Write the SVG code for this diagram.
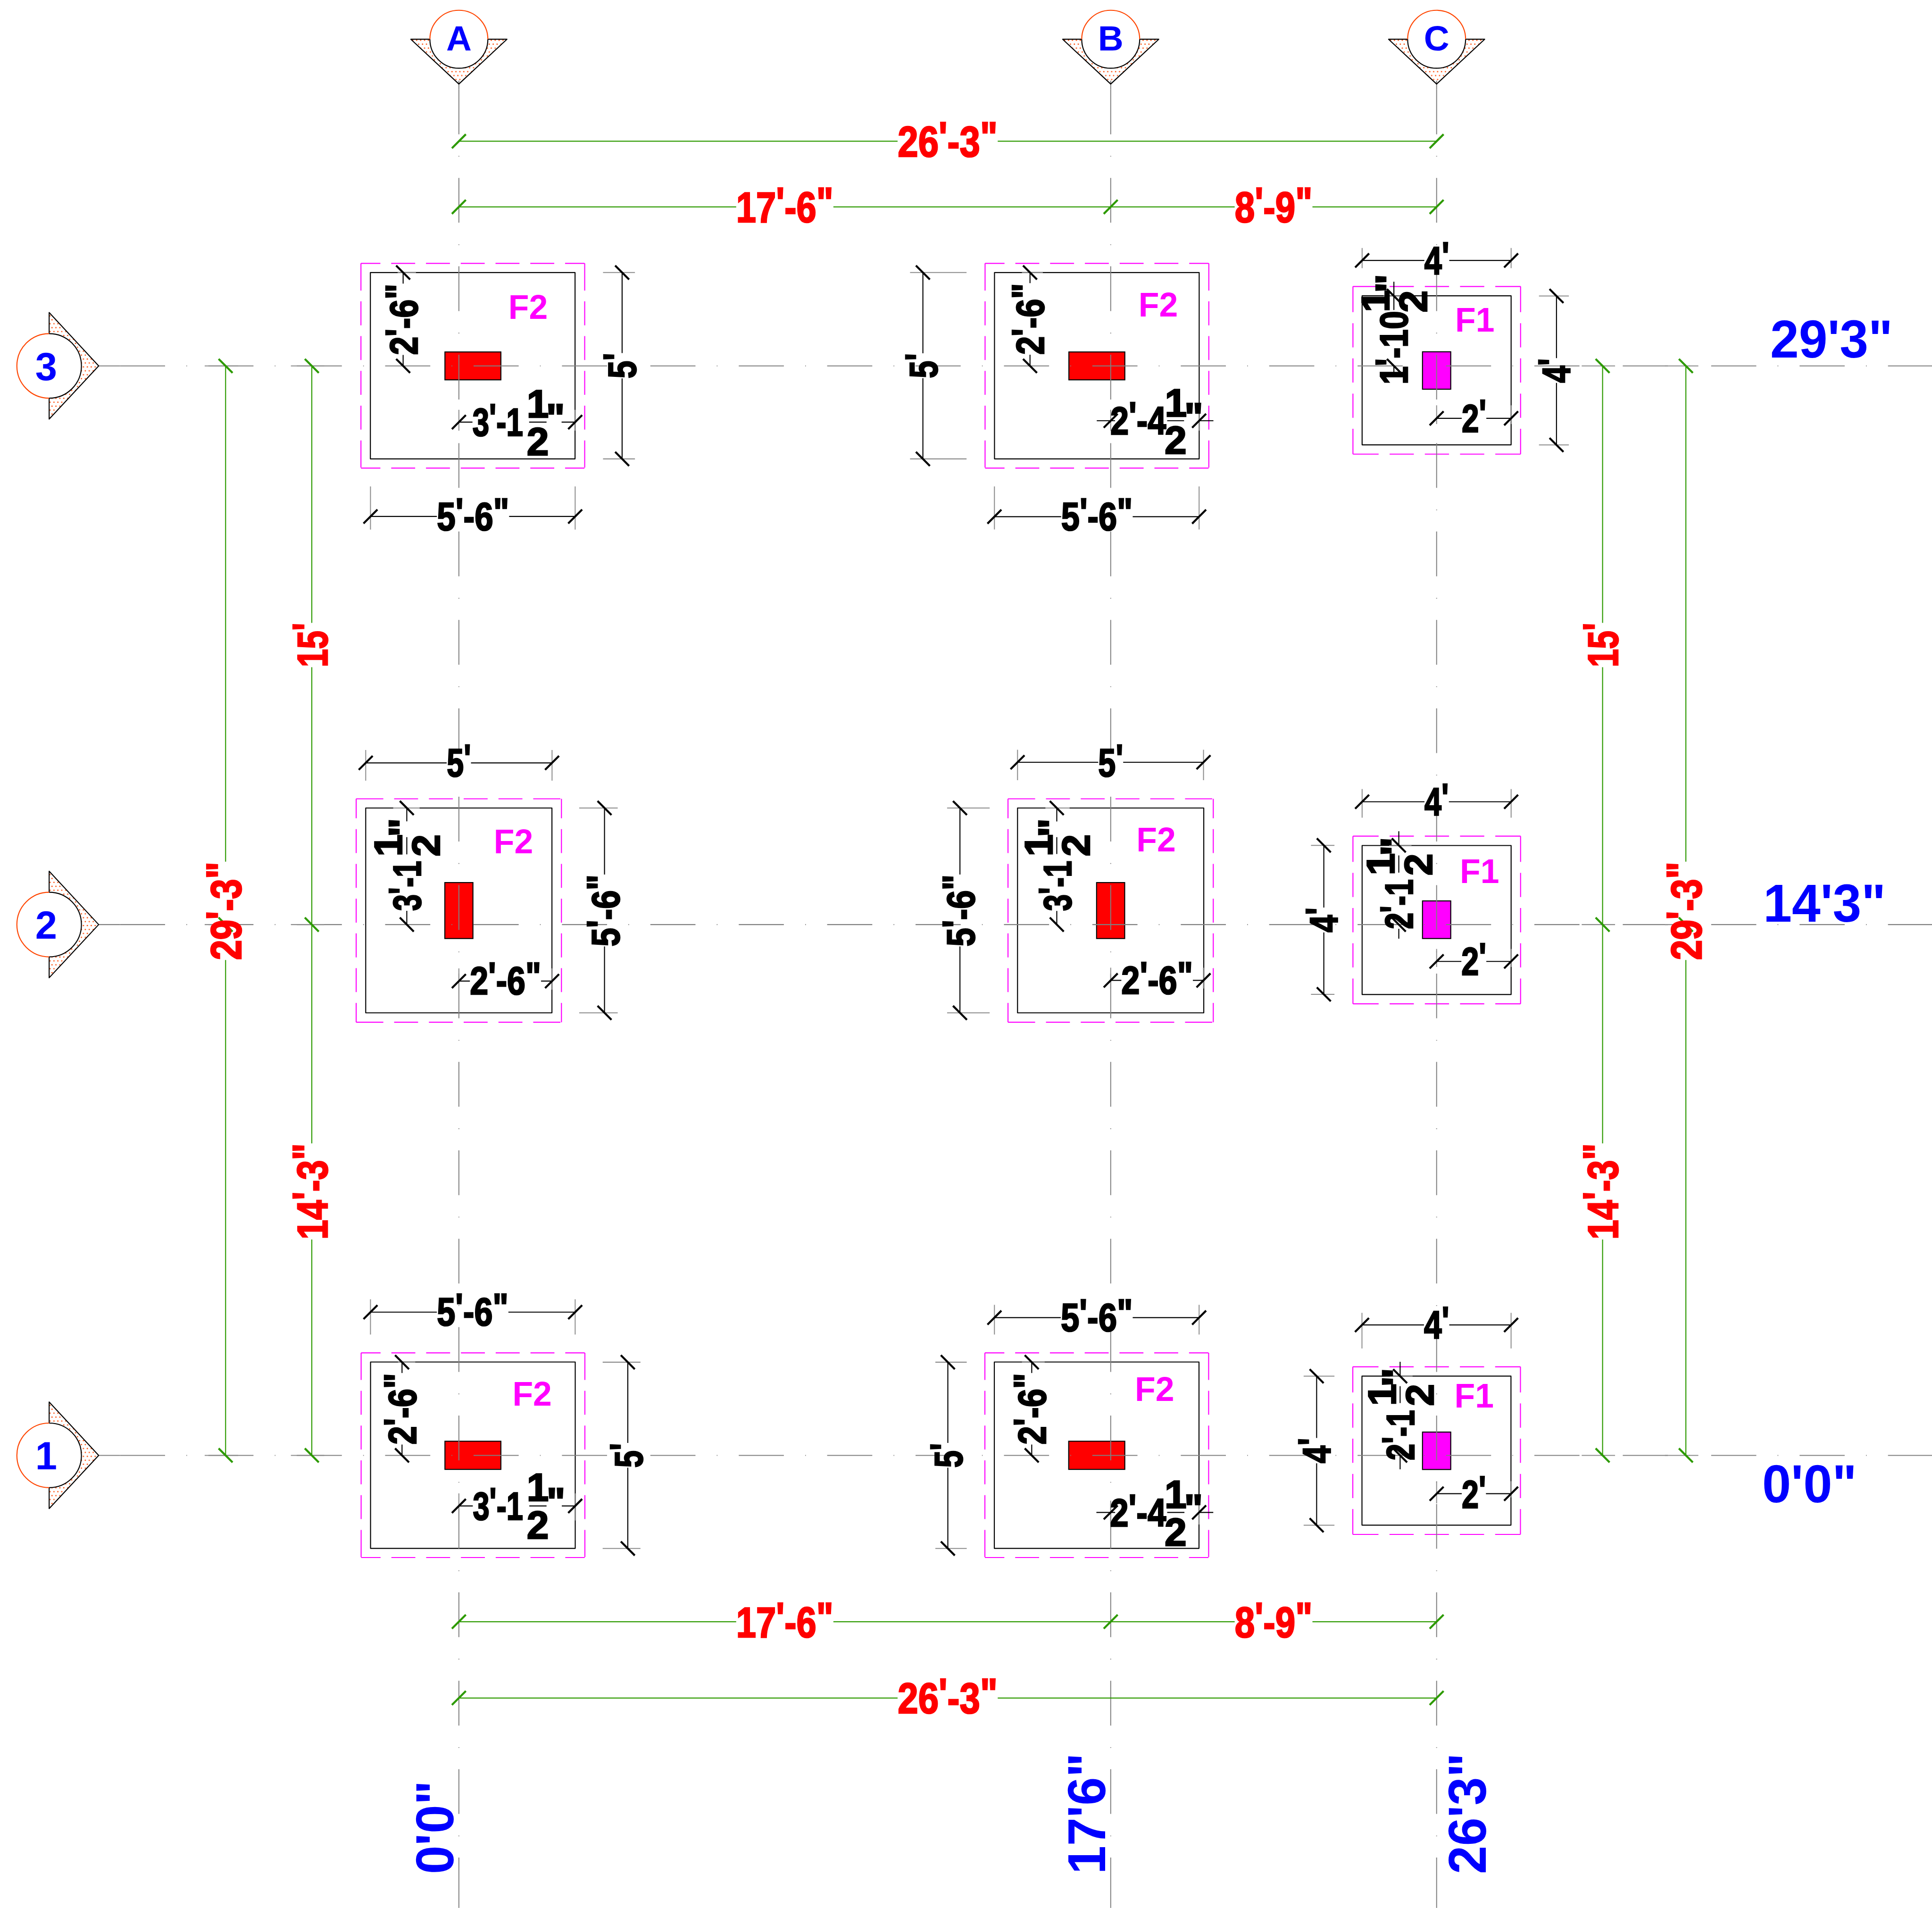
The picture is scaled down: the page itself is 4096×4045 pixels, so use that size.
<svg xmlns="http://www.w3.org/2000/svg" width="4096" height="4045" viewBox="0 0 4096 4045">
<style>
.m{fill:none;stroke:#f0f;stroke-width:2.8}
.m610{stroke-dasharray:53 29.5 65.3 29.5 65.3 29.5 65.3 29.5 65.3 29.5 65.3 29.5 53}
.m558{stroke-dasharray:74 29.5 65.3 29.5 65.3 29.5 65.3 29.5 65.3 29.5 74}
.m457{stroke-dasharray:70 30 66 30 66 30 66 30 70}
.fr{fill:none;stroke:#000;stroke-width:2.8;stroke-linejoin:round}
.cr{fill:#f00;stroke:#000;stroke-width:2.8}
.cm{fill:#f0f;stroke:#000;stroke-width:2.8}
.gr{fill:none;stroke:#808080;stroke-width:2.6}
.gh{stroke-dasharray:123 58 2 58}
.gv{stroke-dasharray:122 59 2 58}
.ex{fill:none;stroke:#8c8c8c;stroke-width:2.6}
.l{fill:none;stroke:#000;stroke-width:2.8}
.t{fill:none;stroke:#000;stroke-width:5.5}
.gl{fill:none;stroke:#2d9a00;stroke-width:2.8}
.gt{fill:none;stroke:#2d9a00;stroke-width:5.5}
text{font-family:"Liberation Sans Narrow","Liberation Sans",sans-serif;font-weight:bold}
.d{font-size:108px;fill:#000;stroke:#000;stroke-width:3.5}
.mid{text-anchor:middle}
.r{font-size:117px;fill:#f00;stroke:#f00;stroke-width:3.5}
.f,.b,.n{font-family:"Liberation Sans",Arial,sans-serif;font-weight:bold}
.f{font-size:92px;fill:#f0f}
.b{font-size:145px;fill:#00f}
.n{fill:#00f;text-anchor:middle}
.tri{fill:url(#dots);stroke:#000;stroke-width:2.8;stroke-linejoin:round}
.ca{fill:#fff;stroke:none}
.ao{fill:none;stroke:#ff4500;stroke-width:2.8}
.ab{fill:none;stroke:#000;stroke-width:2.8}
</style>
<defs>
<pattern id="dots" patternUnits="userSpaceOnUse" width="10.7" height="21.4"><circle cx="2.7" cy="2.7" r="1.8" fill="#ff4500"/><circle cx="8" cy="13.4" r="1.8" fill="#ff4500"/></pattern>
<g id="fw"><path class="m m610" d="M0 0H610M0 558H610"/><path class="m m558" d="M0 0V558M610 0V558"/><rect class="fr" x="25.7" y="25" width="558" height="508"/></g>
<g id="ft"><path class="m m558" d="M0 0H559.6M0 609H559.6"/><path class="m m610" d="M0 0V609M559.6 0V609"/><rect class="fr" x="26" y="25" width="507.7" height="558.4"/></g>
<g id="fs"><path class="m m457" d="M0 0H457M0 457H457M0 0V457M457 0V457"/><rect class="fr" x="25" y="25.5" width="406.2" height="406.2"/></g>
<g id="bv"><path class="tri" d="M-131 0H131L0 122Z"/><circle class="ca" r="79"/><path class="ao" d="M-79 0A79 79 0 0 1 79 0"/><path class="ab" d="M-79 0A79 79 0 0 0 79 0"/></g>
<g id="bh"><path class="tri" d="M134 -145.500V145L269 0Z"/><circle class="ca" cx="134" r="88"/><path class="ao" d="M134 -88A88 88 0 0 0 134 88"/><path class="ab" d="M134 -88A88 88 0 0 1 134 88"/></g>
</defs>
<rect width="4096" height="4045" fill="#fff"/>
<g transform="scale(0.77767)">
<g id="footing-A3"><use href="#fw" x="984" y="718"/><rect class="cr" x="1213" y="959.500" width="152.500" height="76"/><text class="f" x="1386" y="869">F2</text></g>
<g id="footing-B3"><use href="#fw" x="2685.500" y="718"/><rect class="cr" x="2914" y="959.500" width="152.500" height="76"/><text class="f" x="3104" y="862.500">F2</text></g>
<g id="footing-C3"><use href="#fs" x="3688.400" y="781"/><rect class="cm" x="3878" y="959" width="77" height="102"/><text class="f" x="3967" y="904">F1</text></g>
<g id="footing-A2"><use href="#ft" x="971" y="2177.700"/><rect class="cr" x="1212.700" y="2406" width="76.600" height="152.500"/><text class="f" x="1346" y="2326">F2</text></g>
<g id="footing-B2"><use href="#ft" x="2748" y="2177.700"/><rect class="cr" x="2989.500" y="2406" width="76.600" height="152.500"/><text class="f" x="3098" y="2321">F2</text></g>
<g id="footing-C2"><use href="#fs" x="3688.400" y="2279.500"/><rect class="cm" x="3878" y="2456" width="77" height="102.500"/><text class="f" x="3980" y="2407">F1</text></g>
<g id="footing-A1"><use href="#fw" x="984.500" y="3688"/><rect class="cr" x="1213" y="3929" width="152.500" height="76.700"/><text class="f" x="1397" y="3832">F2</text></g>
<g id="footing-B1"><use href="#fw" x="2685" y="3688"/><rect class="cr" x="2913.500" y="3929" width="152.900" height="76.700"/><text class="f" x="3094" y="3819">F2</text></g>
<g id="footing-C1"><use href="#fs" x="3688" y="3726"/><rect class="cm" x="3878" y="3904" width="77" height="102"/><text class="f" x="3965" y="3837">F1</text></g>

<g id="connectors">
<g id="grid">
<path class="gr" d="M269 997.500H327M269 2520.500H327M269 3967.500H327M1251 220V244M3028 220V244M3916.500 220V244M1251 5186V5201M3028 5186V5201M3916.500 5186V5201"/>
<path class="gr gh" d="M327 997.500H5267M327 2520.500H5267M327 3967.500H5267"/>
<path class="gr gv" d="M1251 244V5201M3028 244V5201M3916.500 244V5201"/>
<path class="ex" d="M558 997.500H649M558 2520.500H649M558 3967.500H649M793 997.500H884M793 2520.500H884M793 3967.500H884M4312 997.500H4403M4312 2520.500H4403M4312 3967.500H4403M4539 997.500H4630M4539 2520.500H4630M4539 3967.500H4630"/>
<path class="ex" d="M1010 1326V1443.600M1568 1326V1443.600M1644 743H1731M1644 1251H1731M1084 743H1134M1251 1117V1174M1568 1117V1174"/>
<path class="ex" d="M2711 1326V1443.500M3269 1326V1443.500M2481 743H2635M2481 1251H2635M2786 743H2843M3028 1117V1174M3269 1117V1174"/>
<path class="ex" d="M3713.400 676V731M4119.600 676V731M4195.500 807H4277M4195.500 1213H4277M3772 807H3834M3916.500 1105V1156M4119.600 1105V1156"/>
<path class="ex" d="M997 2044.500V2128M1505 2044.500V2128M1579 2202.600H1684M1579 2761H1684M1072 2202.600H1144M1251 2640V2698M1505 2640V2698"/>
<path class="ex" d="M2774 2044V2127M3281 2044V2127M2582 2202.700H2698M2582 2761H2698M2850 2202.700H2916M3028 2638V2695M3281 2638V2695"/>
<path class="ex" d="M3713.400 2151V2229M4119.600 2151V2229M3574 2304.500H3638M3574 2710.700H3638M3787 2304.500H3848M3916.500 2587V2636M4119.600 2587V2636"/>
<path class="ex" d="M1010 3542V3638M1568 3542V3638M1643 3713.500H1746M1643 4221.400H1746M1085 3713.500H1132M1251 4071V4145M1568 4071V4145"/>
<path class="ex" d="M2711 3557V3638M3269 3557V3638M2550 3713.500H2635.500M2550 4221.400H2635.500M2786 3713.500H2848M3028 4091V4156M3269 4091V4156"/>
<path class="ex" d="M3713 3579V3676M4119.500 3579V3676M3554 3751.500H3638M3554 4158H3638M3789 3751.500H3851M3916.500 4038V4098M4119.500 4038V4082"/>
</g>
<g id="overall-dims">
<path class="gl" d="M1251 385H2447M2720 385H3916.500M1251 564H2007M2272 564H3366M3578 564H3916.500M1251 4421H2007M2272 4421H3366M3578 4421H3916.500M1251 4629H2447M2720 4629H3916.500"/>
<path class="gl" d="M615 997.500V2349M615 2617V3967.500M4596 997.500V2349M4596 2617V3967.500M850 997.500V1698M850 1819V3117M850 3379V3967.500M4369 997.500V1698M4369 1819V3117M4369 3379V3967.500"/>
<path class="gt" d="M1232 404l38-38M3897.500 404l38-38M1232 583l38-38M3009 583l38-38M3897.500 583l38-38M1232 4440l38-38M3009 4440l38-38M3897.500 4440l38-38M1232 4648l38-38M3897.500 4648l38-38"/>
<path class="gt" d="M596 978.500l38 38M596 2501.500l38 38M596 3948.500l38 38M831 978.500l38 38M831 2501.500l38 38M831 3948.500l38 38M4350 978.500l38 38M4350 2501.500l38 38M4350 3948.500l38 38M4577 978.500l38 38M4577 2501.500l38 38M4577 3948.500l38 38"/>
</g>
<g id="footing-dims">
<path class="l" d="M1099 743V773M1099 967.600V997.500M1251 1150.700H1288M1531 1150.700H1568M1442.500 1150.700H1490M1696 743V962.400M1696 1031.500V1251M1010 1408H1191M1388 1408H1568"/>
<path class="t" d="M1080 724l38 38M1080 978.500l38 38M1677 724l38 38M1677 1232l38 38M1232 1169.700l38-38M1549 1169.700l38-38M991 1427l38-38M1549 1427l38-38"/>
<path class="l" d="M2808 743V772M2808 967V997.500M2990 1147H3040M3269 1147H3308M3182 1147H3228M2516 743V963M2516 1031V1251M2711 1408.500H2893M3088 1408.500H3269"/>
<path class="t" d="M2789 724l38 38M2789 978.500l38 38M2497 724l38 38M2497 1232l38 38M3009 1166l38-38M3250 1166l38-38M2692 1427.500l38-38M3250 1427.500l38-38"/>
<path class="l" d="M3713.400 710H3883M3951 710H4119.600M3800 768V845M3800 997.500V1023M3916.500 1140.400H3985M4052 1140.400H4119.600M4243.300 807V976.300M4243.300 1043.700V1213"/>
<path class="t" d="M3781 788l38 38M3781 978.500l38 38M4224.300 788l38 38M4224.300 1194l38 38M3694.400 729l38-38M4100.600 729l38-38M3897.500 1159.400l38-38M4100.600 1159.400l38-38"/>
<path class="l" d="M997 2079.700H1217.700M1284 2079.700H1505M1109 2202.600V2239M1109 2483V2520.500M1109 2282V2329M1251 2674.600H1281M1475 2674.600H1505M1648 2202.600V2384M1648 2580V2761"/>
<path class="t" d="M1090 2183.600l38 38M1090 2501.500l38 38M1629 2183.600l38 38M1629 2742l38 38M978 2098.700l38-38M1486 2098.700l38-38M1232 2693.600l38-38M1486 2693.600l38-38"/>
<path class="l" d="M2774 2078H2994M3062 2078H3281M2881 2202.700V2239.500M2881 2483.400V2520.500M2881 2282V2328M3028 2672.600H3057M3252 2672.600H3281M2617 2202.700V2384M2617 2580V2761"/>
<path class="t" d="M2862 2183.700l38 38M2862 2501.500l38 38M2598 2183.700l38 38M2598 2742l38 38M2755 2097l38-38M3262 2097l38-38M3009 2691.600l38-38M3262 2691.600l38-38"/>
<path class="l" d="M3713.400 2185.700H3883.500M3950 2185.700H4119.600M3813.400 2266V2304.500M3813.400 2532V2559M3813.400 2332V2379M3916.500 2621H3984M4052 2621H4119.600M3609 2304.500V2474M3609 2542V2710.700"/>
<path class="t" d="M3794.400 2285.500l38 38M3794.400 2501.500l38 38M3590 2285.500l38 38M3590 2691.700l38 38M3694.400 2204.700l38-38M4100.600 2204.700l38-38M3897.500 2640l38-38M4100.600 2640l38-38"/>
<path class="l" d="M1010 3577H1191M1386 3577H1568M1096 3713.500V3743M1096 3938V3967.500M1251 4105.400H1289M1531.600 4105.400H1568M1443 4105.400H1490M1711.500 3713.500V3933.600M1711.500 4001V4221.400"/>
<path class="t" d="M1077 3694.500l38 38M1077 3948.500l38 38M1692.500 3694.500l38 38M1692.500 4202.400l38 38M991 3596l38-38M1549 3596l38-38M1232 4124.400l38-38M1549 4124.400l38-38"/>
<path class="l" d="M2711 3592H2892M3088 3592H3269M2812.700 3713.500V3743M2812.700 3938V3967.500M2989 4123H3040M3269 4123H3307.600M3182 4123H3229M2584 3713.500V3933.600M2584 4001V4221.400"/>
<path class="t" d="M2793.700 3694.500l38 38M2793.700 3948.500l38 38M2565 3694.500l38 38M2565 4202.400l38 38M2692 3611l38-38M3250 3611l38-38M3009 4142l38-38M3250 4142l38-38"/>
<path class="l" d="M3713 3612H3882M3951 3612H4119.500M3817 3712.500V3751.500M3817 3969V4005.700M3817 3779V3825M3916.500 4072H3985M4051 4072H4119.500M3589.400 3751.500V3920M3589.400 3989V4158"/>
<path class="t" d="M3798 3732.500l38 38M3798 3948.500l38 38M3570.400 3732.500l38 38M3570.400 4139l38 38M3694 3631l38-38M4100.500 3631l38-38M3897.500 4091l38-38M4100.500 4091l38-38"/>
</g>
</g>

<g id="bubble-A"><use href="#bv" x="1251" y="107"/><text class="n" x="1251" y="138" font-size="96">A</text></g>
<g id="bubble-B"><use href="#bv" x="3028" y="107"/><text class="n" x="3028" y="138" font-size="96">B</text></g>
<g id="bubble-C"><use href="#bv" x="3916.500" y="107"/><text class="n" x="3916.500" y="138" font-size="96">C</text></g>
<g id="bubble-3"><use href="#bh" y="997.500"/><text class="n" x="126" y="1036" font-size="107">3</text></g>
<g id="bubble-2"><use href="#bh" y="2520.500"/><text class="n" x="126" y="2559" font-size="107">2</text></g>
<g id="bubble-1"><use href="#bh" y="3967.500"/><text class="n" x="126" y="4006" font-size="107">1</text></g>

<g id="labels-overall">
<text class="r" x="2447.500" y="427" textLength="272" lengthAdjust="spacingAndGlyphs">26<tspan dy="-13">'</tspan><tspan dy="13">-3</tspan><tspan dy="-13">"</tspan></text>
<text class="r" x="2007" y="606" textLength="265" lengthAdjust="spacingAndGlyphs">17<tspan dy="-13">'</tspan><tspan dy="13">-6</tspan><tspan dy="-13">"</tspan></text>
<text class="r" x="3366" y="606" textLength="212" lengthAdjust="spacingAndGlyphs">8<tspan dy="-13">'</tspan><tspan dy="13">-9</tspan><tspan dy="-13">"</tspan></text>
<text class="r" x="2007" y="4463" textLength="265" lengthAdjust="spacingAndGlyphs">17<tspan dy="-13">'</tspan><tspan dy="13">-6</tspan><tspan dy="-13">"</tspan></text>
<text class="r" x="3366" y="4463" textLength="212" lengthAdjust="spacingAndGlyphs">8<tspan dy="-13">'</tspan><tspan dy="13">-9</tspan><tspan dy="-13">"</tspan></text>
<text class="r" x="2447.500" y="4671" textLength="272" lengthAdjust="spacingAndGlyphs">26<tspan dy="-13">'</tspan><tspan dy="13">-3</tspan><tspan dy="-13">"</tspan></text>
<text class="r" transform="translate(657,2617) rotate(-90)" textLength="268" lengthAdjust="spacingAndGlyphs">29<tspan dy="-13">'</tspan><tspan dy="13">-3</tspan><tspan dy="-13">"</tspan></text>
<text class="r" transform="translate(892,1819) rotate(-90)" textLength="121" lengthAdjust="spacingAndGlyphs">15<tspan dy="-13">'</tspan></text>
<text class="r" transform="translate(892,3379) rotate(-90)" textLength="262" lengthAdjust="spacingAndGlyphs">14<tspan dy="-13">'</tspan><tspan dy="13">-3</tspan><tspan dy="-13">"</tspan></text>
<text class="r" transform="translate(4411,1819) rotate(-90)" textLength="121" lengthAdjust="spacingAndGlyphs">15<tspan dy="-13">'</tspan></text>
<text class="r" transform="translate(4411,3379) rotate(-90)" textLength="262" lengthAdjust="spacingAndGlyphs">14<tspan dy="-13">'</tspan><tspan dy="13">-3</tspan><tspan dy="-13">"</tspan></text>
<text class="r" transform="translate(4638,2617) rotate(-90)" textLength="268" lengthAdjust="spacingAndGlyphs">29<tspan dy="-13">'</tspan><tspan dy="13">-3</tspan><tspan dy="-13">"</tspan></text>
<text class="b" x="4826" y="975" textLength="334" lengthAdjust="spacingAndGlyphs">29'3"</text>
<text class="b" x="4807" y="2513" textLength="334" lengthAdjust="spacingAndGlyphs">14'3"</text>
<text class="b" x="4804" y="4095" textLength="258" lengthAdjust="spacingAndGlyphs">0'0"</text>
<text class="b" transform="translate(1236,5109) rotate(-90)" textLength="255" lengthAdjust="spacingAndGlyphs">0'0"</text>
<text class="b" transform="translate(3013,5109) rotate(-90)" textLength="330" lengthAdjust="spacingAndGlyphs">17'6"</text>
<text class="b" transform="translate(4051,5109) rotate(-90)" textLength="330" lengthAdjust="spacingAndGlyphs">26'3"</text>
</g>

<g id="labels-footings">
<text class="d" transform="translate(1138,967.600) rotate(-90)" textLength="194" lengthAdjust="spacingAndGlyphs">2<tspan dy="-12">'</tspan><tspan dy="12">-6</tspan><tspan dy="-12">"</tspan></text>
<text class="d" x="1288" y="1188" textLength="138" lengthAdjust="spacingAndGlyphs">3<tspan dy="-12">'</tspan><tspan dy="12">-1</tspan></text>
<text class="d mid" x="1466" y="1137.600">1</text><text class="d mid" x="1466" y="1240.600">2</text><text class="d mid" x="1514.500" y="1176">"</text>
<text class="d" transform="translate(1733,1031.500) rotate(-90)" textLength="69" lengthAdjust="spacingAndGlyphs">5<tspan dy="-12">'</tspan></text>
<text class="d" x="1191" y="1446" textLength="197" lengthAdjust="spacingAndGlyphs">5<tspan dy="-12">'</tspan><tspan dy="12">-6</tspan><tspan dy="-12">"</tspan></text>

<text class="d" transform="translate(2846,967) rotate(-90)" textLength="195" lengthAdjust="spacingAndGlyphs">2<tspan dy="-12">'</tspan><tspan dy="12">-6</tspan><tspan dy="-12">"</tspan></text>
<text class="d" x="3027" y="1184" textLength="152" lengthAdjust="spacingAndGlyphs">2<tspan dy="-12">'</tspan><tspan dy="12">-4</tspan></text>
<text class="d mid" x="3205.500" y="1135">1</text><text class="d mid" x="3205" y="1237">2</text><text class="d mid" x="3254.500" y="1174">"</text>
<text class="d" transform="translate(2555,1031) rotate(-90)" textLength="68" lengthAdjust="spacingAndGlyphs">5<tspan dy="-12">'</tspan></text>
<text class="d" x="2893" y="1446" textLength="195" lengthAdjust="spacingAndGlyphs">5<tspan dy="-12">'</tspan><tspan dy="12">-6</tspan><tspan dy="-12">"</tspan></text>

<text class="d" x="3883" y="748" textLength="68" lengthAdjust="spacingAndGlyphs">4<tspan dy="-12">'</tspan></text>
<text class="d" transform="translate(3837.500,1048) rotate(-90)" textLength="200" lengthAdjust="spacingAndGlyphs">1<tspan dy="-12">'</tspan><tspan dy="12">-10</tspan></text>
<text class="d mid" transform="translate(3787,821) rotate(-90)">1</text><text class="d mid" transform="translate(3890,822) rotate(-90)">2</text><text class="d mid" transform="translate(3826,772.600) rotate(-90)">"</text>
<text class="d" x="3985" y="1177.600" textLength="67" lengthAdjust="spacingAndGlyphs">2<tspan dy="-12">'</tspan></text>
<text class="d" transform="translate(4281,1043.700) rotate(-90)" textLength="67" lengthAdjust="spacingAndGlyphs">4<tspan dy="-12">'</tspan></text>

<text class="d" x="1218" y="2117" textLength="66" lengthAdjust="spacingAndGlyphs">5<tspan dy="-12">'</tspan></text>
<text class="d" transform="translate(1147.500,2483) rotate(-90)" textLength="136.500" lengthAdjust="spacingAndGlyphs">3<tspan dy="-12">'</tspan><tspan dy="12">-1</tspan></text>
<text class="d mid" transform="translate(1096,2305) rotate(-90)">1</text><text class="d mid" transform="translate(1199,2305) rotate(-90)">2</text><text class="d mid" transform="translate(1135,2256) rotate(-90)">"</text>
<text class="d" x="1281" y="2711" textLength="194" lengthAdjust="spacingAndGlyphs">2<tspan dy="-12">'</tspan><tspan dy="12">-6</tspan><tspan dy="-12">"</tspan></text>
<text class="d" transform="translate(1688,2580) rotate(-90)" textLength="196" lengthAdjust="spacingAndGlyphs">5<tspan dy="-12">'</tspan><tspan dy="12">-6</tspan><tspan dy="-12">"</tspan></text>

<text class="d" x="2994" y="2116.500" textLength="68" lengthAdjust="spacingAndGlyphs">5<tspan dy="-12">'</tspan></text>
<text class="d" transform="translate(2920,2483.400) rotate(-90)" textLength="137" lengthAdjust="spacingAndGlyphs">3<tspan dy="-12">'</tspan><tspan dy="12">-1</tspan></text>
<text class="d mid" transform="translate(2868.600,2304.500) rotate(-90)">1</text><text class="d mid" transform="translate(2970,2304.500) rotate(-90)">2</text><text class="d mid" transform="translate(2906.500,2256.600) rotate(-90)">"</text>
<text class="d" x="3057" y="2709.400" textLength="195" lengthAdjust="spacingAndGlyphs">2<tspan dy="-12">'</tspan><tspan dy="12">-6</tspan><tspan dy="-12">"</tspan></text>
<text class="d" transform="translate(2657,2580) rotate(-90)" textLength="196" lengthAdjust="spacingAndGlyphs">5<tspan dy="-12">'</tspan><tspan dy="12">-6</tspan><tspan dy="-12">"</tspan></text>

<text class="d" x="3883.500" y="2223.700" textLength="66" lengthAdjust="spacingAndGlyphs">4<tspan dy="-12">'</tspan></text>
<text class="d" transform="translate(3851,2533) rotate(-90)" textLength="136" lengthAdjust="spacingAndGlyphs">2<tspan dy="-12">'</tspan><tspan dy="12">-1</tspan></text>
<text class="d mid" transform="translate(3801,2355.800) rotate(-90)">1</text><text class="d mid" transform="translate(3903.600,2357) rotate(-90)">2</text><text class="d mid" transform="translate(3840,2307.600) rotate(-90)">"</text>
<text class="d" x="3984" y="2658" textLength="68" lengthAdjust="spacingAndGlyphs">2<tspan dy="-12">'</tspan></text>
<text class="d" transform="translate(3647,2542) rotate(-90)" textLength="68" lengthAdjust="spacingAndGlyphs">4<tspan dy="-12">'</tspan></text>

<text class="d" x="1191" y="3614" textLength="195" lengthAdjust="spacingAndGlyphs">5<tspan dy="-12">'</tspan><tspan dy="12">-6</tspan><tspan dy="-12">"</tspan></text>
<text class="d" transform="translate(1134,3938) rotate(-90)" textLength="195" lengthAdjust="spacingAndGlyphs">2<tspan dy="-12">'</tspan><tspan dy="12">-6</tspan><tspan dy="-12">"</tspan></text>
<text class="d" x="1289" y="4143" textLength="137" lengthAdjust="spacingAndGlyphs">3<tspan dy="-12">'</tspan><tspan dy="12">-1</tspan></text>
<text class="d mid" x="1466" y="4092">1</text><text class="d mid" x="1466" y="4195">2</text><text class="d mid" x="1515.500" y="4132">"</text>
<text class="d" transform="translate(1751,4001) rotate(-90)" textLength="67" lengthAdjust="spacingAndGlyphs">5<tspan dy="-12">'</tspan></text>

<text class="d" x="2892" y="3629" textLength="196" lengthAdjust="spacingAndGlyphs">5<tspan dy="-12">'</tspan><tspan dy="12">-6</tspan><tspan dy="-12">"</tspan></text>
<text class="d" transform="translate(2851,3938) rotate(-90)" textLength="195" lengthAdjust="spacingAndGlyphs">2<tspan dy="-12">'</tspan><tspan dy="12">-6</tspan><tspan dy="-12">"</tspan></text>
<text class="d" x="3026" y="4161" textLength="153" lengthAdjust="spacingAndGlyphs">2<tspan dy="-12">'</tspan><tspan dy="12">-4</tspan></text>
<text class="d mid" x="3205" y="4111">1</text><text class="d mid" x="3205" y="4214">2</text><text class="d mid" x="3254" y="4150">"</text>
<text class="d" transform="translate(2623,4001) rotate(-90)" textLength="67" lengthAdjust="spacingAndGlyphs">5<tspan dy="-12">'</tspan></text>

<text class="d" x="3882" y="3650" textLength="69" lengthAdjust="spacingAndGlyphs">4<tspan dy="-12">'</tspan></text>
<text class="d" transform="translate(3855,3981) rotate(-90)" textLength="137" lengthAdjust="spacingAndGlyphs">2<tspan dy="-12">'</tspan><tspan dy="12">-1</tspan></text>
<text class="d mid" transform="translate(3805,3802.400) rotate(-90)">1</text><text class="d mid" transform="translate(3907.600,3803) rotate(-90)">2</text><text class="d mid" transform="translate(3844,3755) rotate(-90)">"</text>
<text class="d" x="3985" y="4111" textLength="66" lengthAdjust="spacingAndGlyphs">2<tspan dy="-12">'</tspan></text>
<text class="d" transform="translate(3627,3989) rotate(-90)" textLength="69" lengthAdjust="spacingAndGlyphs">4<tspan dy="-12">'</tspan></text>
</g>
</g>
</svg>
